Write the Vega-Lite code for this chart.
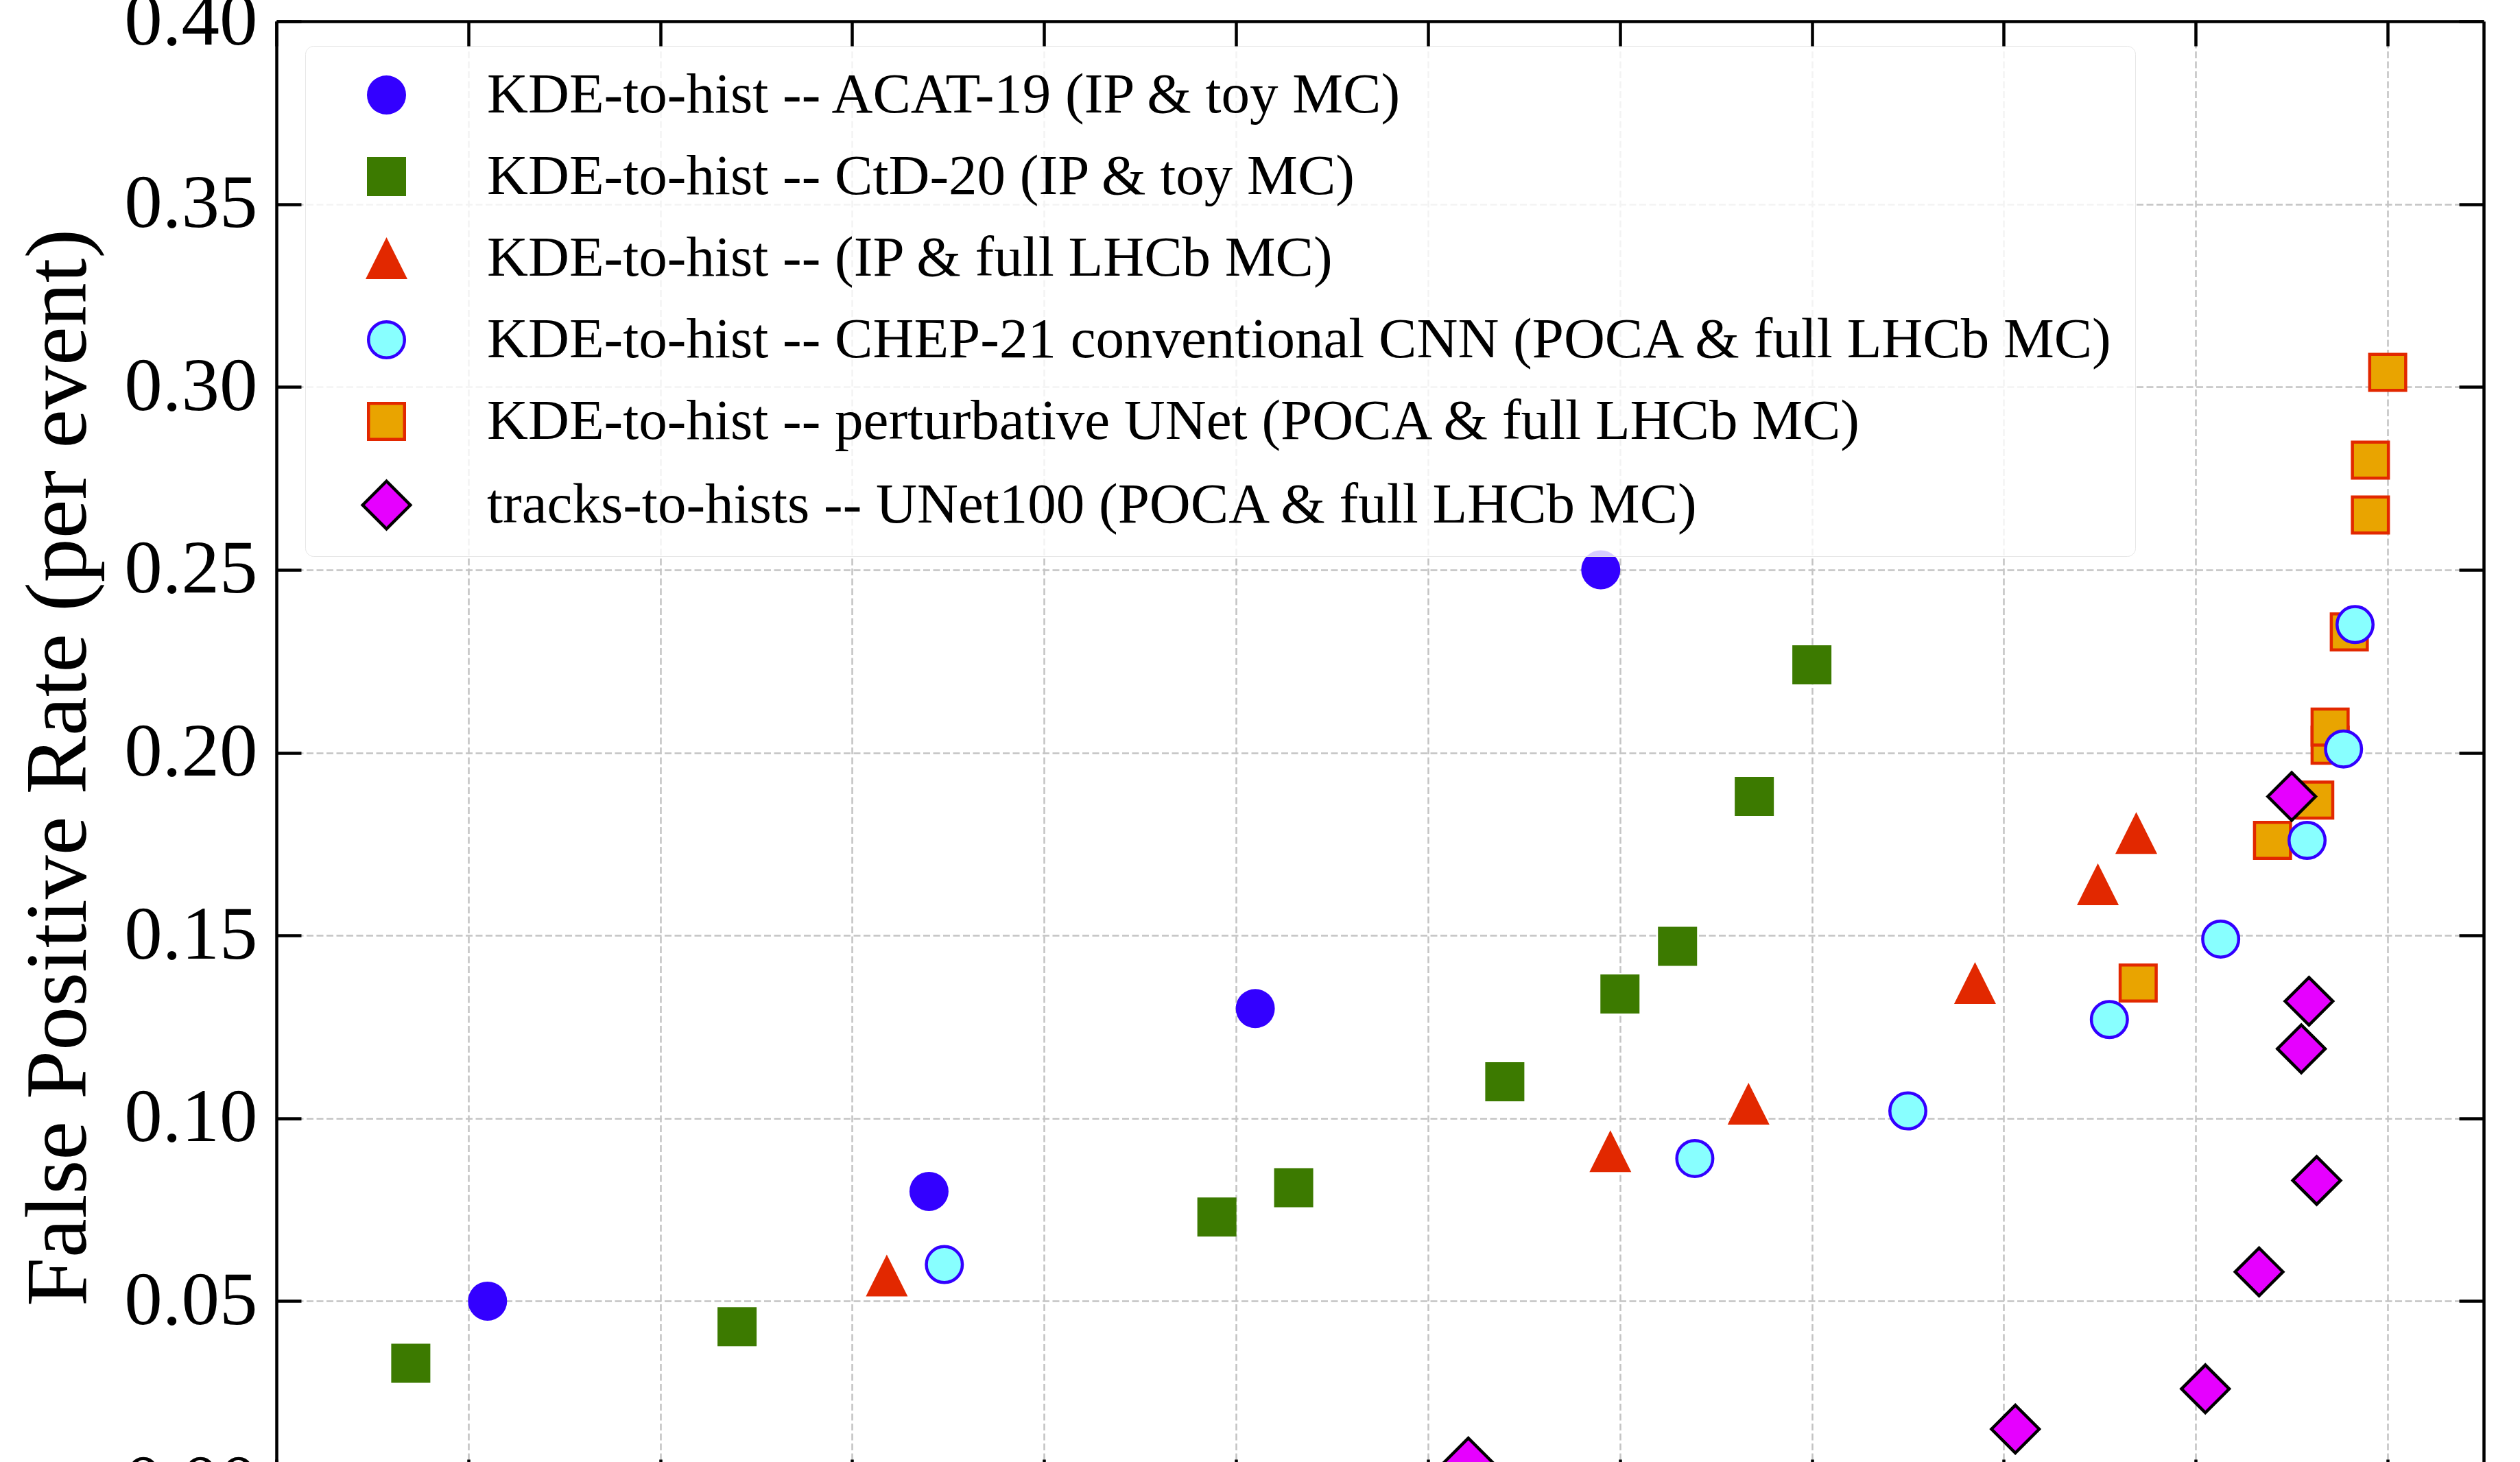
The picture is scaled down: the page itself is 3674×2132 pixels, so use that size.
{
  "$schema": "https://vega.github.io/schema/vega-lite/v6.json",
  "width": 3218,
  "height": 2133,
  "autosize": {"type": "none"},
  "padding": {"left": 403, "top": 31, "right": 53, "bottom": 0},
  "background": "white",
  "config": {"font": "Liberation Serif", "view": {"stroke": null}},
  "data": {
    "values": [
      {"series": "KDE-to-hist -- ACAT-19 (IP & toy MC)", "efficiency": 87.10, "fp_rate": 0.050},
      {"series": "KDE-to-hist -- ACAT-19 (IP & toy MC)", "efficiency": 89.40, "fp_rate": 0.080},
      {"series": "KDE-to-hist -- ACAT-19 (IP & toy MC)", "efficiency": 91.10, "fp_rate": 0.130},
      {"series": "KDE-to-hist -- ACAT-19 (IP & toy MC)", "efficiency": 92.90, "fp_rate": 0.250},
      {"series": "KDE-to-hist -- CtD-20 (IP & toy MC)", "efficiency": 86.70, "fp_rate": 0.033},
      {"series": "KDE-to-hist -- CtD-20 (IP & toy MC)", "efficiency": 88.40, "fp_rate": 0.043},
      {"series": "KDE-to-hist -- CtD-20 (IP & toy MC)", "efficiency": 90.90, "fp_rate": 0.073},
      {"series": "KDE-to-hist -- CtD-20 (IP & toy MC)", "efficiency": 91.30, "fp_rate": 0.081},
      {"series": "KDE-to-hist -- CtD-20 (IP & toy MC)", "efficiency": 92.40, "fp_rate": 0.110},
      {"series": "KDE-to-hist -- CtD-20 (IP & toy MC)", "efficiency": 93.00, "fp_rate": 0.134},
      {"series": "KDE-to-hist -- CtD-20 (IP & toy MC)", "efficiency": 93.30, "fp_rate": 0.147},
      {"series": "KDE-to-hist -- CtD-20 (IP & toy MC)", "efficiency": 93.70, "fp_rate": 0.188},
      {"series": "KDE-to-hist -- CtD-20 (IP & toy MC)", "efficiency": 94.00, "fp_rate": 0.224},
      {"series": "KDE-to-hist -- (IP & full LHCb MC)", "efficiency": 89.18, "fp_rate": 0.057},
      {"series": "KDE-to-hist -- (IP & full LHCb MC)", "efficiency": 92.95, "fp_rate": 0.091},
      {"series": "KDE-to-hist -- (IP & full LHCb MC)", "efficiency": 93.67, "fp_rate": 0.104},
      {"series": "KDE-to-hist -- (IP & full LHCb MC)", "efficiency": 94.85, "fp_rate": 0.137},
      {"series": "KDE-to-hist -- (IP & full LHCb MC)", "efficiency": 95.49, "fp_rate": 0.164},
      {"series": "KDE-to-hist -- (IP & full LHCb MC)", "efficiency": 95.69, "fp_rate": 0.178},
      {"series": "KDE-to-hist -- perturbative UNet (POCA & full LHCb MC)", "efficiency": 95.70, "fp_rate": 0.137},
      {"series": "KDE-to-hist -- perturbative UNet (POCA & full LHCb MC)", "efficiency": 96.40, "fp_rate": 0.176},
      {"series": "KDE-to-hist -- perturbative UNet (POCA & full LHCb MC)", "efficiency": 96.62, "fp_rate": 0.187},
      {"series": "KDE-to-hist -- perturbative UNet (POCA & full LHCb MC)", "efficiency": 96.70, "fp_rate": 0.202},
      {"series": "KDE-to-hist -- perturbative UNet (POCA & full LHCb MC)", "efficiency": 96.70, "fp_rate": 0.207},
      {"series": "KDE-to-hist -- perturbative UNet (POCA & full LHCb MC)", "efficiency": 96.80, "fp_rate": 0.233},
      {"series": "KDE-to-hist -- perturbative UNet (POCA & full LHCb MC)", "efficiency": 96.91, "fp_rate": 0.265},
      {"series": "KDE-to-hist -- perturbative UNet (POCA & full LHCb MC)", "efficiency": 96.91, "fp_rate": 0.280},
      {"series": "KDE-to-hist -- perturbative UNet (POCA & full LHCb MC)", "efficiency": 97.00, "fp_rate": 0.304},
      {"series": "KDE-to-hist -- CHEP-21 conventional CNN (POCA & full LHCb MC)", "efficiency": 89.48, "fp_rate": 0.060},
      {"series": "KDE-to-hist -- CHEP-21 conventional CNN (POCA & full LHCb MC)", "efficiency": 93.39, "fp_rate": 0.089},
      {"series": "KDE-to-hist -- CHEP-21 conventional CNN (POCA & full LHCb MC)", "efficiency": 94.50, "fp_rate": 0.102},
      {"series": "KDE-to-hist -- CHEP-21 conventional CNN (POCA & full LHCb MC)", "efficiency": 95.55, "fp_rate": 0.127},
      {"series": "KDE-to-hist -- CHEP-21 conventional CNN (POCA & full LHCb MC)", "efficiency": 96.13, "fp_rate": 0.149},
      {"series": "KDE-to-hist -- CHEP-21 conventional CNN (POCA & full LHCb MC)", "efficiency": 96.58, "fp_rate": 0.176},
      {"series": "KDE-to-hist -- CHEP-21 conventional CNN (POCA & full LHCb MC)", "efficiency": 96.77, "fp_rate": 0.201},
      {"series": "KDE-to-hist -- CHEP-21 conventional CNN (POCA & full LHCb MC)", "efficiency": 96.83, "fp_rate": 0.235},
      {"series": "tracks-to-hists -- UNet100 (POCA & full LHCb MC)", "efficiency": 92.21, "fp_rate": 0.006},
      {"series": "tracks-to-hists -- UNet100 (POCA & full LHCb MC)", "efficiency": 95.06, "fp_rate": 0.015},
      {"series": "tracks-to-hists -- UNet100 (POCA & full LHCb MC)", "efficiency": 96.05, "fp_rate": 0.026},
      {"series": "tracks-to-hists -- UNet100 (POCA & full LHCb MC)", "efficiency": 96.33, "fp_rate": 0.058},
      {"series": "tracks-to-hists -- UNet100 (POCA & full LHCb MC)", "efficiency": 96.63, "fp_rate": 0.083},
      {"series": "tracks-to-hists -- UNet100 (POCA & full LHCb MC)", "efficiency": 96.55, "fp_rate": 0.119},
      {"series": "tracks-to-hists -- UNet100 (POCA & full LHCb MC)", "efficiency": 96.59, "fp_rate": 0.132},
      {"series": "tracks-to-hists -- UNet100 (POCA & full LHCb MC)", "efficiency": 96.50, "fp_rate": 0.188}
    ]
  },
  "layer": [
    {
      "mark": {"type": "point", "filled": true, "opacity": 1, "strokeWidth": 4.5},
      "encoding": {
        "x": {
          "field": "efficiency", "type": "quantitative",
          "scale": {"domain": [86, 97.5], "nice": false, "zero": false},
          "axis": {
            "orient": "bottom", "values": [86, 87, 88, 89, 90, 91, 92, 93, 94, 95, 96, 97],
            "labels": false, "title": null,
            "tickSize": -36, "tickWidth": 4.5, "tickColor": "black",
            "domain": true, "domainColor": "black", "domainWidth": 4.5,
            "grid": true, "gridColor": "#c4c4c4", "gridDash": [10, 4.5], "gridWidth": 2.5,
            "zindex": 0
          }
        },
        "y": {
          "field": "fp_rate", "type": "quantitative",
          "scale": {"domain": [0, 0.4], "nice": false, "zero": true},
          "axis": {
            "orient": "left", "values": [0, 0.05, 0.1, 0.15, 0.2, 0.25, 0.3, 0.35, 0.4],
            "format": ".2f", "labelFont": "Liberation Serif", "labelFontSize": 111, "labelColor": "black",
            "labelPadding": 64, "labelLimit": 1000,
            "tickSize": -36, "tickWidth": 4.5, "tickColor": "black",
            "domain": true, "domainColor": "black", "domainWidth": 4.5,
            "grid": true, "gridColor": "#c4c4c4", "gridDash": [10, 4.5], "gridWidth": 2.5,
            "title": "False Positive Rate (per event)", "titleFont": "Liberation Serif",
            "titleFontSize": 128, "titleFontWeight": "normal", "titleColor": "black", "titlePadding": 52,
            "titleY": 1088,
            "zindex": 0
          }
        },
        "shape": {
          "field": "series", "type": "nominal",
          "scale": {
            "domain": ["KDE-to-hist -- ACAT-19 (IP & toy MC)", "KDE-to-hist -- CtD-20 (IP & toy MC)", "KDE-to-hist -- (IP & full LHCb MC)", "KDE-to-hist -- CHEP-21 conventional CNN (POCA & full LHCb MC)", "KDE-to-hist -- perturbative UNet (POCA & full LHCb MC)", "tracks-to-hists -- UNet100 (POCA & full LHCb MC)"],
            "range": ["circle", "square", "M0,-1L1,1L-1,1Z", "circle", "square", "diamond"]
          },
          "legend": {
            "title": null, "orient": "none", "legendX": 42, "legendY": 36, "direction": "vertical",
            "labelFont": "Liberation Serif", "labelFontSize": 83, "labelColor": "black", "labelLimit": 5000,
            "padding": 30, "symbolOffset": 47, "labelOffset": 105, "rowPadding": 35,
            "fillColor": "rgba(255,255,255,0.8)", "strokeColor": "#e6e6e6", "cornerRadius": 12,
            "symbolStrokeWidth": 4.5, "symbolOpacity": 1
          }
        },
        "fill": {
          "field": "series", "type": "nominal",
          "scale": {
            "domain": ["KDE-to-hist -- ACAT-19 (IP & toy MC)", "KDE-to-hist -- CtD-20 (IP & toy MC)", "KDE-to-hist -- (IP & full LHCb MC)", "KDE-to-hist -- CHEP-21 conventional CNN (POCA & full LHCb MC)", "KDE-to-hist -- perturbative UNet (POCA & full LHCb MC)", "tracks-to-hists -- UNet100 (POCA & full LHCb MC)"],
            "range": ["#3300ff", "#3c7a00", "#e22800", "#88ffff", "#e9a400", "#e600ff"]
          },
          "legend": {
            "title": null, "orient": "none", "legendX": 42, "legendY": 36, "direction": "vertical",
            "labelFont": "Liberation Serif", "labelFontSize": 83, "labelColor": "black", "labelLimit": 5000,
            "padding": 30, "symbolOffset": 47, "labelOffset": 105, "rowPadding": 35,
            "fillColor": "rgba(255,255,255,0.8)", "strokeColor": "#e6e6e6", "cornerRadius": 12,
            "symbolStrokeWidth": 4.5, "symbolOpacity": 1
          }
        },
        "stroke": {
          "field": "series", "type": "nominal",
          "scale": {
            "domain": ["KDE-to-hist -- ACAT-19 (IP & toy MC)", "KDE-to-hist -- CtD-20 (IP & toy MC)", "KDE-to-hist -- (IP & full LHCb MC)", "KDE-to-hist -- CHEP-21 conventional CNN (POCA & full LHCb MC)", "KDE-to-hist -- perturbative UNet (POCA & full LHCb MC)", "tracks-to-hists -- UNet100 (POCA & full LHCb MC)"],
            "range": ["transparent", "transparent", "transparent", "#3300ff", "#e22800", "#000000"]
          },
          "legend": {
            "title": null, "orient": "none", "legendX": 42, "legendY": 36, "direction": "vertical",
            "labelFont": "Liberation Serif", "labelFontSize": 83, "labelColor": "black", "labelLimit": 5000,
            "padding": 30, "symbolOffset": 47, "labelOffset": 105, "rowPadding": 35,
            "fillColor": "rgba(255,255,255,0.8)", "strokeColor": "#e6e6e6", "cornerRadius": 12,
            "symbolStrokeWidth": 4.5, "symbolOpacity": 1
          }
        },
        "size": {
          "field": "series", "type": "nominal",
          "scale": {
            "type": "ordinal",
            "domain": ["KDE-to-hist -- ACAT-19 (IP & toy MC)", "KDE-to-hist -- CtD-20 (IP & toy MC)", "KDE-to-hist -- (IP & full LHCb MC)", "KDE-to-hist -- CHEP-21 conventional CNN (POCA & full LHCb MC)", "KDE-to-hist -- perturbative UNet (POCA & full LHCb MC)", "tracks-to-hists -- UNet100 (POCA & full LHCb MC)"],
            "range": [3249, 3249, 3721, 2756, 2756, 4844]
          },
          "legend": {
            "title": null, "orient": "none", "legendX": 42, "legendY": 36, "direction": "vertical",
            "labelFont": "Liberation Serif", "labelFontSize": 83, "labelColor": "black", "labelLimit": 5000,
            "padding": 30, "symbolOffset": 47, "labelOffset": 105, "rowPadding": 35,
            "fillColor": "rgba(255,255,255,0.8)", "strokeColor": "#e6e6e6", "cornerRadius": 12,
            "symbolStrokeWidth": 4.5, "symbolOpacity": 1
          }
        }
      }
    },
    {
      "mark": {"type": "point", "opacity": 0},
      "encoding": {
        "x": {
          "field": "efficiency", "type": "quantitative",
          "axis": {
            "orient": "top", "values": [86, 87, 88, 89, 90, 91, 92, 93, 94, 95, 96, 97],
            "labels": false, "title": null, "grid": false,
            "tickSize": -36, "tickWidth": 4.5, "tickColor": "black",
            "domain": true, "domainColor": "black", "domainWidth": 4.5, "zindex": 1
          }
        },
        "y": {
          "field": "fp_rate", "type": "quantitative",
          "axis": {
            "orient": "right", "values": [0, 0.05, 0.1, 0.15, 0.2, 0.25, 0.3, 0.35, 0.4],
            "labels": false, "title": null, "grid": false,
            "tickSize": -36, "tickWidth": 4.5, "tickColor": "black",
            "domain": true, "domainColor": "black", "domainWidth": 4.5, "zindex": 1
          }
        }
      }
    }
  ],
  "resolve": {"axis": {"x": "independent", "y": "independent"}}
}
